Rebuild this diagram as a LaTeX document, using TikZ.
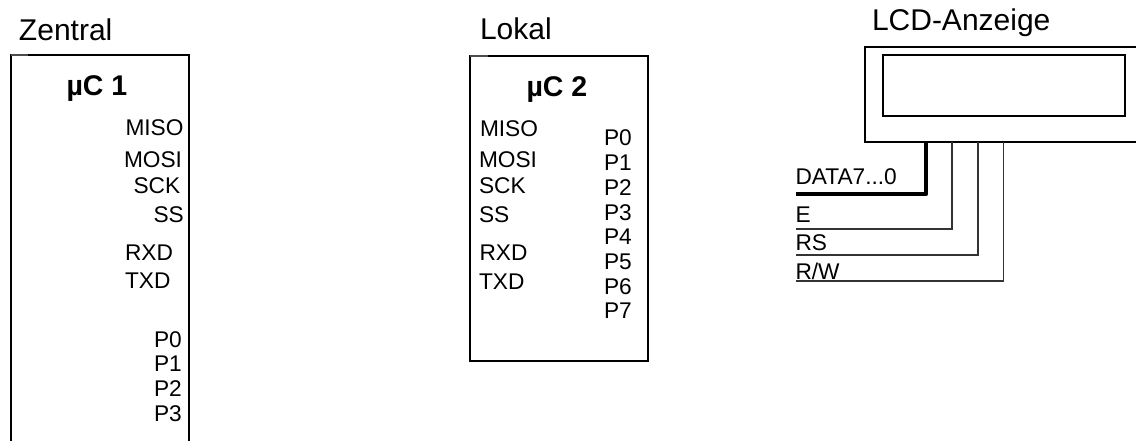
\documentclass[tikz,border=0pt]{standalone}
\usepackage{fontspec}
\setmainfont{Liberation Sans}
\tikzset{
  x=1pt,y=-1pt,
  boxline/.style={draw=black,line width=2pt,inner sep=0pt,outer sep=0pt,fill=none},
  title/.style={inner sep=0pt,outer sep=0pt,yshift=-2.5pt,font=\fontsize{30}{32}\selectfont},
  chip/.style={inner sep=0pt,outer sep=0pt,yshift=-1pt,font=\bfseries\fontsize{28.5}{30}\selectfont},
  pin/.style={inner sep=0pt,outer sep=0pt,yshift=-0.4pt,text=black,font=\fontsize{22.7}{24}\selectfont},
  wire/.style={draw=black!80,line width=1.3pt},
  bus/.style={draw=black,line width=4.2pt,line join=round},
  edgepatch/.style={draw=white,line width=2.6pt},
  thinedge/.style={draw=black!70,line width=1.2pt}
}
\begin{document}
\begin{tikzpicture}
\useasboundingbox (0,0) rectangle (1136,441);
\clip (0,0) rectangle (1136,441);
% mC1 (runs off the bottom)
\node[boxline,minimum width=178pt,minimum height=445pt,anchor=north west] (mc1) at (10.5,55) {};
\coordinate (mc1a) at (10.5,55); \coordinate (mc1b) at (28,55);
\draw[edgepatch] (mc1a) -- (mc1b);
\draw[thinedge] (mc1a) -- (mc1b);
% mC2
\node[boxline,minimum width=178pt,minimum height=305pt,anchor=north west] (mc2) at (470,56) {};
\coordinate (mc2a) at (470,56); \coordinate (mc2b) at (488,56);
\draw[edgepatch] (mc2a) -- (mc2b);
\draw[thinedge] (mc2a) -- (mc2b);
% LCD
\node[boxline,minimum width=300pt,minimum height=95pt,anchor=north west] (lcd) at (865,47) {};
\node[boxline,minimum width=242.5pt,minimum height=60.5pt,anchor=north west] (screen) at (882.5,55.5) {};
% Titles
\node[title,anchor=base west] (tz) at (19,38) {Zentral};
\node[title,anchor=base west] (tl) at (480,37) {Lokal};
\node[title,anchor=base west] (tq) at (872,28) {LCD-Anzeige};
\node[chip,anchor=base west] (c1) at (66.5,95) {µC 1};
\node[chip,anchor=base west] (c2) at (526.5,96) {µC 2};
% mC1 pins
\node[pin,anchor=base west] (a1) at (125.5,135) {MISO};
\node[pin,anchor=base west] (a2) at (124,167) {MOSI};
\node[pin,anchor=base west] (a3) at (133.5,193) {SCK};
\node[pin,anchor=base west] (a4) at (153.5,222) {SS};
\node[pin,anchor=base west] (a5) at (125,260) {RXD};
\node[pin,anchor=base west] (a6) at (125,288) {TXD};
\node[pin,anchor=base west] (a7) at (154,347) {P0};
\node[pin,anchor=base west] (a8) at (154,371) {P1};
\node[pin,anchor=base west] (a9) at (154,396) {P2};
\node[pin,anchor=base west] (a10) at (154,421) {P3};
% mC2 pins
\node[pin,anchor=base west] (b1) at (480,136) {MISO};
\node[pin,anchor=base west] (b2) at (479,167) {MOSI};
\node[pin,anchor=base west] (b3) at (479,193) {SCK};
\node[pin,anchor=base west] (b4) at (479,222) {SS};
\node[pin,anchor=base west] (b5) at (479.5,260) {RXD};
\node[pin,anchor=base west] (b6) at (479,289) {TXD};
\node[pin,anchor=base west] (p0) at (604,145) {P0};
\node[pin,anchor=base west] (p1) at (604,170) {P1};
\node[pin,anchor=base west] (p2) at (604,195) {P2};
\node[pin,anchor=base west] (p3) at (604,220) {P3};
\node[pin,anchor=base west] (p4) at (604,244) {P4};
\node[pin,anchor=base west] (p5) at (604,269) {P5};
\node[pin,anchor=base west] (p6) at (604,294) {P6};
\node[pin,anchor=base west] (p7) at (604,318) {P7};
% LCD connectors
\node[pin,anchor=base west] (ld) at (795.5,184.5) {DATA7...0};
\node[pin,anchor=base west] (le) at (795.5,222.5) {E};
\node[pin,anchor=base west] (lr) at (795.5,250) {RS};
\node[pin,anchor=base west] (lw) at (795.5,279.5) {R/W};
\coordinate (ed) at (796,194); \coordinate (ee) at (796,229);
\coordinate (er) at (796,255); \coordinate (ew) at (796,281);
\coordinate (sd) at (926,142); \coordinate (se) at (952,142);
\coordinate (sr) at (978,142); \coordinate (sw) at (1003.5,142);
\draw[bus] (sd) |- (ed);
\draw[wire] (se) |- (ee);
\draw[wire] (sr) |- (er);
\draw[wire] (sw) |- (ew);
\end{tikzpicture}
\end{document}
